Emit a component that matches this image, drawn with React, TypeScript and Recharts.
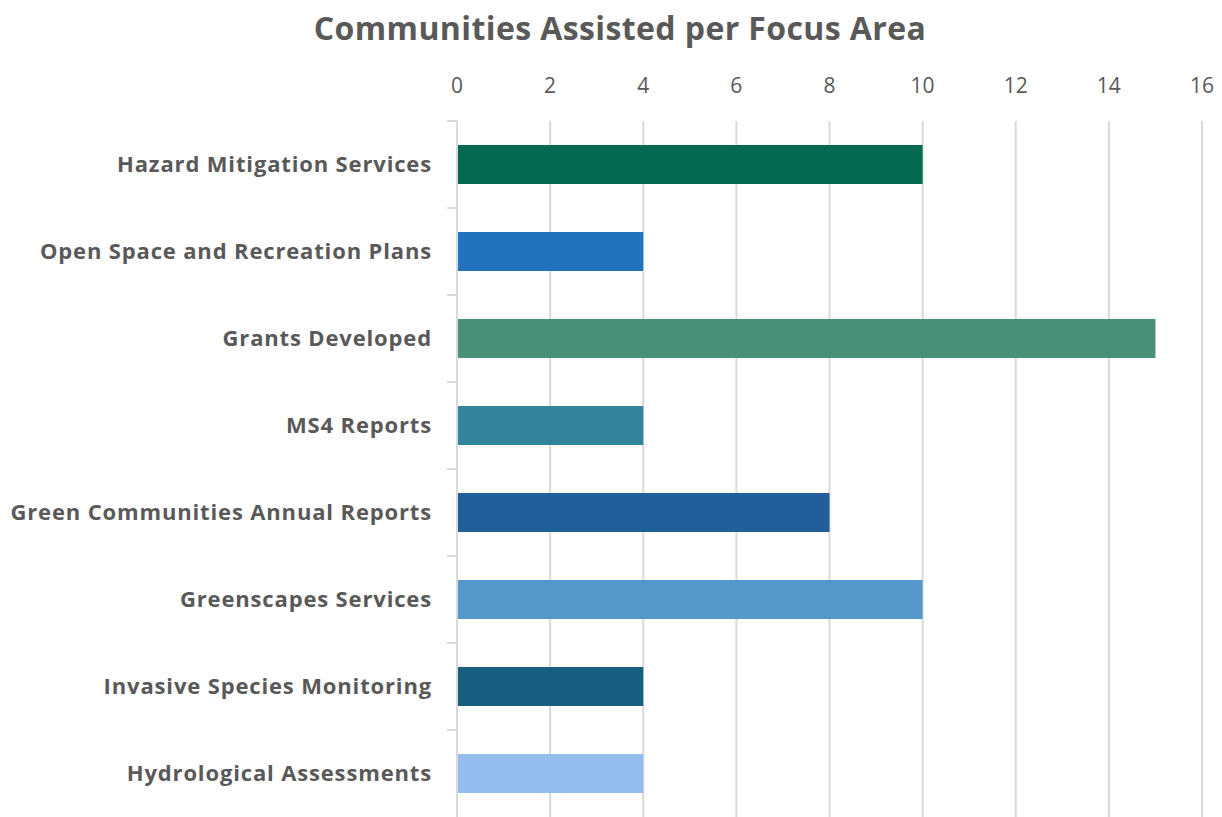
import React from "react";
import { BarChart, Bar, XAxis, YAxis, CartesianGrid, Cell } from "recharts";

const categories = [
  "Hazard Mitigation Services",
  "Open Space and Recreation Plans",
  "Grants Developed",
  "MS4 Reports",
  "Green Communities Annual Reports",
  "Greenscapes Services",
  "Invasive Species Monitoring",
  "Hydrological Assessments",
];
const values = [10, 4, 15, 4, 8, 10, 4, 4];
const colors = ["#03694F", "#2272BE", "#4A8F78", "#31849B", "#215F9A", "#5497CB", "#165F80", "#93BDEE"];
const xTicks = [0, 2, 4, 6, 8, 10, 12, 14, 16];
const title = "Communities Assisted per Focus Area";

const data = categories.map((name, i) => ({ name, value: values[i] }));

const W = 1222;
const H = 817;
const M = { top: 50, right: 20, bottom: 0, left: 0 };
const XH = 71;
const YW = 457;
const BAND = (H - M.top - XH - M.bottom) / categories.length;
const FONT = "'Open Sans', 'Noto Sans', sans-serif";
const TEXT = "#595959";
const GRID = "#D9D9D9";

const XTick = (props: any) => {
  const { x, payload } = props;
  return (
    <text x={x} y={M.top + XH - 28} textAnchor="middle" fontFamily={FONT} fontSize={21} fill={TEXT}>
      {payload.value}
    </text>
  );
};

const YTick = (props: any) => {
  const { x, y, payload } = props;
  const top = y - BAND / 2;
  return (
    <g>
      <line x1={YW - 10} x2={YW} y1={top} y2={top} stroke={GRID} strokeWidth={2} />
      <text
        x={x - 17}
        y={y}
        dy={7.5}
        textAnchor="end"
        fontFamily={FONT}
        fontWeight={700}
        fontSize={22}
        letterSpacing={0.85}
        fill={TEXT}
      >
        {payload.value}
      </text>
    </g>
  );
};

export default function App() {
  return (
    <div style={{ position: "absolute", left: 0, top: 0, width: W, height: H, overflow: "hidden", background: "#fff" }}>
      <div
        style={{
          position: "absolute",
          left: 0,
          top: 8,
          width: W,
          textAlign: "center",
          fontFamily: FONT,
          fontWeight: 700,
          fontSize: 32,
          letterSpacing: 0.4,
          color: TEXT,
          lineHeight: "40px",
          paddingLeft: 9,
        }}
      >
        {title}
      </div>
      <BarChart
        width={W}
        height={H}
        data={data}
        layout="vertical"
        margin={M}
        barCategoryGap="27.5%"
      >
        <CartesianGrid horizontal={false} vertical stroke={GRID} strokeWidth={2} />
        <XAxis
          type="number"
          orientation="top"
          domain={[0, 16]}
          ticks={xTicks}
          axisLine={false}
          tickLine={false}
          tick={<XTick />}
          height={XH}
          interval={0}
        />
        <YAxis
          type="category"
          dataKey="name"
          width={YW}
          axisLine={{ stroke: GRID, strokeWidth: 2 }}
          tickLine={false}
          tick={<YTick />}
          interval={0}
        />
        <Bar dataKey="value" isAnimationActive={false}>
          {data.map((d, i) => (
            <Cell key={d.name} fill={colors[i]} />
          ))}
        </Bar>
      </BarChart>
    </div>
  );
}
